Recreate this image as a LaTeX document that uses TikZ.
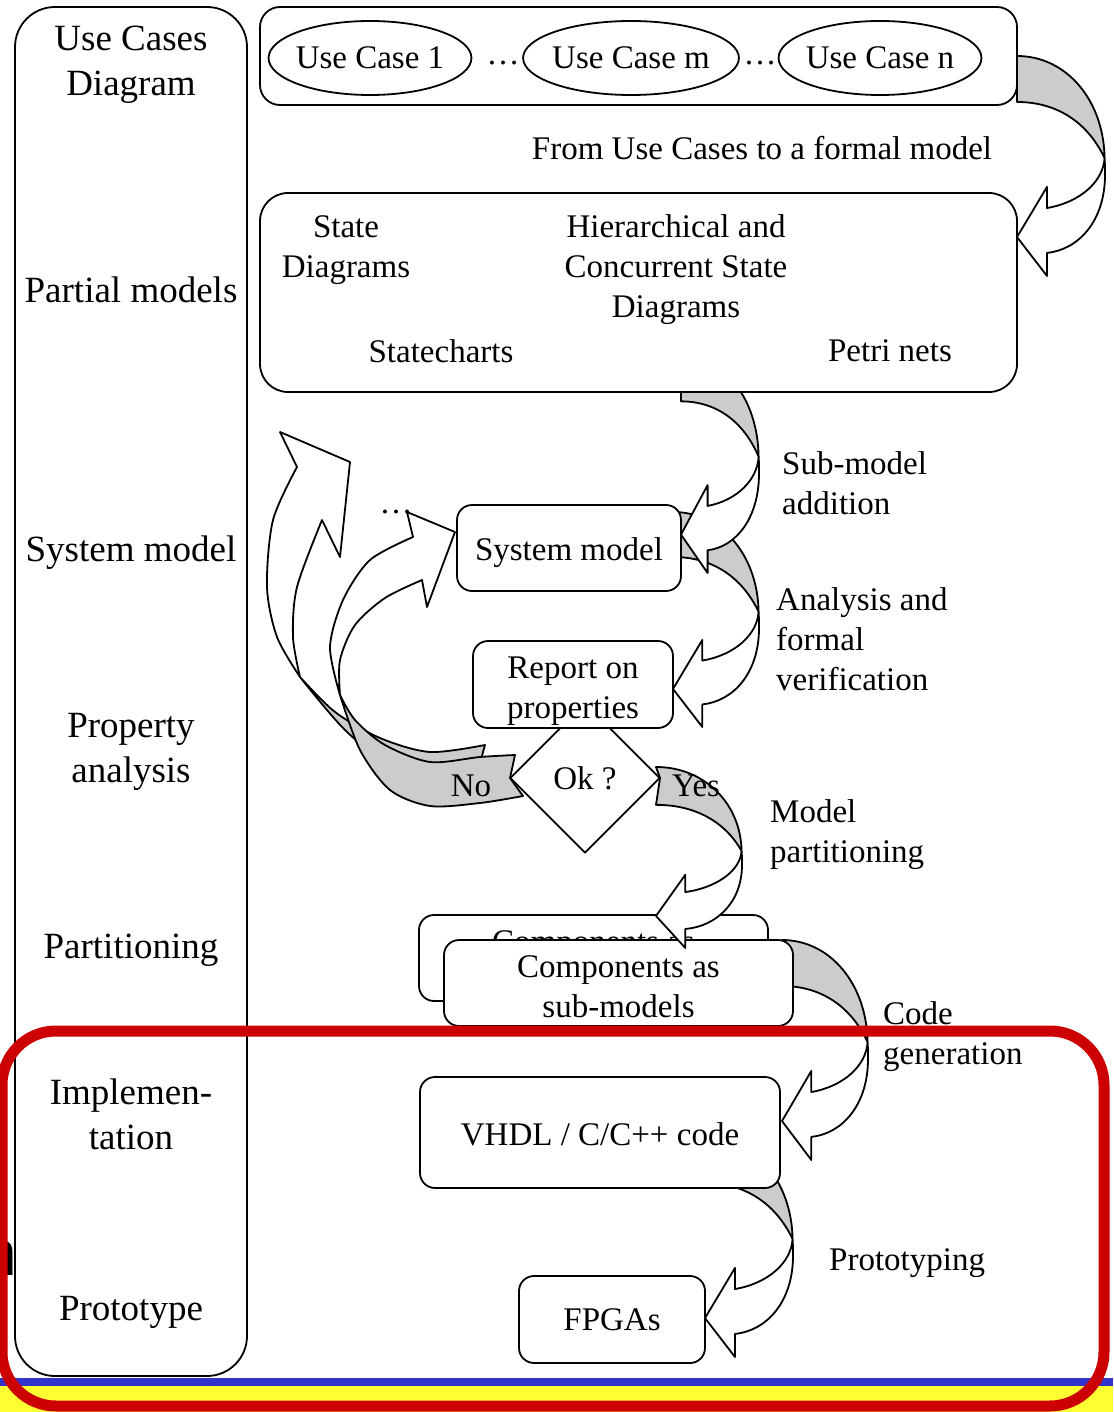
\documentclass[tikz,border=0pt]{standalone}
\usepackage{fontspec}
\setmainfont{Liberation Serif}
\newfontfamily\slidesans{Liberation Sans}
\usetikzlibrary{shapes.geometric}
\definecolor{bandgray}{HTML}{CCCCCC}
\definecolor{framered}{HTML}{CC0000}
\definecolor{stripblue}{HTML}{3333CC}
\definecolor{stripyellow}{HTML}{FFFF33}

% Folded (curved) block arrow: starts at (#1,#2) heading right, bends down and
% comes back pointing left; #3 = width, #4 = height, #5 = optional tail notch.
\newcommand\foldarrow[5]{%
  \begin{scope}[shift={(#1,#2)},xscale=#3,yscale=#4]
    \filldraw[backface] (0,0) .. controls (0.56,0) and (0.985,0.2) .. (0.995,0.464)
      .. controls (0.8,0.3) and (0.45,0.209) .. (0,0.209) #5 -- cycle;
    \filldraw[frontface] (0.995,0.464) .. controls (0.98,0.57) and (0.72,0.665) .. (0.341,0.691)
      -- (0.341,0.595) -- (0,0.823) -- (0.341,1) -- (0.341,0.895)
      .. controls (0.7,0.88) and (1,0.75) .. (1,0.54)
      .. controls (1,0.515) and (1,0.49) .. (0.995,0.464) -- cycle;
  \end{scope}}

\begin{document}
\begin{tikzpicture}[x=1pt,y=-1pt,line join=round,
  outline/.style={draw=black,line width=1.8pt},
  backface/.style={outline,fill=bandgray},
  frontface/.style={outline,fill=white},
  box/.style={outline,fill=white,rounded corners=#1,inner sep=0pt,align=center,
    font=\fontsize{33}{40}\selectfont},
  box/.default=15pt,
  usecase/.style={outline,fill=white,ellipse,minimum width=198,minimum height=74,
    inner xsep=-2.5pt,inner ysep=0pt,font=\fontsize{33}{40}\selectfont},
  body/.style={inner sep=0pt,align=center,font=\fontsize{33}{40}\selectfont},
  side/.style={inner sep=0pt,align=left,anchor=west,font=\fontsize{33}{40}\selectfont},
  lane/.style={inner sep=0pt,align=center,font=\fontsize{37}{45}\selectfont}]

\useasboundingbox (0,0) rectangle (1113,1412);
\clip (0,0) rectangle (1113,1412);
\fill[white] (0,0) rectangle (1113,1412);

% slide footer strip
\fill[stripyellow] (0,1386) rectangle (1113,1412);
\fill[stripblue] (0,1378) rectangle (1113,1386);

% letter cut by the slide edge
\node[anchor=base west,inner sep=0pt,font=\slidesans\fontsize{64}{64}\selectfont] (cut) at (-19,1275) {n};

% phase column
\node[box=40pt,minimum width=232,minimum height=1369] (lanes) at (131,691.5) {};
\node[lane] (l1) at (131,65) {Use Cases\\Diagram};
\node[lane] (l2) at (131,290) {Partial models};
\node[lane] (l3) at (131,553) {System model};
\node[lane] (l4) at (131,752) {Property\\analysis};
\node[lane] (l5) at (131,950) {Partitioning};
\node[lane] (l6) at (131,1114) {Implemen-\\tation};
\node[lane] (l7) at (131,1312) {Prototype};

% use cases
\node[box=20pt,minimum width=757,minimum height=98] (ucbox) at (638.5,56) {};
\node[usecase] (uc1) at (370,58) {Use Case 1};
\node[usecase] (ucm) at (631,58) {Use Case m};
\node[usecase] (ucn) at (880,58) {Use Case n};
\node[body] (dots1) at (503,63) {\dots};
\node[body] (dots2) at (760,63) {\dots};

\foldarrow{1017}{56}{88}{220}{}
\node[body] (formal) at (762,148) {From Use Cases to a formal model};

% partial models -> system model -> report
\foldarrow{673}{512}{86}{215}{}
\node[box,minimum width=224,minimum height=86,text height=33pt] (sys) at (569,548) {System model};
\foldarrow{681}{356}{78}{217}{}

\node[box=28pt,minimum width=757,minimum height=199] (partial) at (638.5,292.5) {};
\node[body] (sd) at (346,250) {State\\Diagrams};
\node[body] (hcsd) at (676,270) {Hierarchical and\\Concurrent State\\Diagrams};
\node[body] (sc) at (441,351) {Statecharts};
\node[body] (pn) at (890,351) {Petri nets};

% loop back on failed properties
\node[body] (dots3) at (396,512) {\dots};
\filldraw[backface] plot[smooth] coordinates {(300,677) (345,730) (400,775) (450,800) (497,796)}
  -- (478,770) -- plot[smooth] coordinates {(485,745) (430,752) (380,738) (335,712) (300,677)} -- cycle;
\filldraw[frontface] plot[smooth] coordinates {(300,677) (277,637) (267,587) (273,520) (297,467)}
  -- (280,432) -- (350,462) -- (340,557)
  -- plot[smooth] coordinates {(322,520) (297,587) (293,637) (300,677)} -- cycle;
\filldraw[backface] plot[smooth] coordinates {(340,695) (360,750) (390,790) (430,806) (480,803) (523,796)}
  -- (510,778) -- plot[smooth] coordinates {(515,755) (480,757) (430,762) (385,745) (355,720) (340,695)} -- cycle;
\filldraw[frontface] plot[smooth] coordinates {(340,695) (330,647) (343,600) (370,560) (413,537)}
  -- (407,512) -- (455,532) -- (427,607)
  -- plot[smooth] coordinates {(422,580) (385,598) (355,625) (340,660) (340,695)} -- cycle;
\node[body] (no) at (471,786) {No};

\node[outline,fill=white,diamond,minimum width=150,minimum height=150,body] (ok) at (585,778) {Ok ?};
\node[box,minimum width=200,minimum height=87,text height=76pt] (report) at (573,684.5) {Report on\\properties};

% partitioning, code generation, prototyping
\node[box,minimum width=186,minimum height=87] (fpga) at (612,1319.5) {FPGAs};
\foldarrow{705}{1137}{88}{220}{}
\node[box,minimum width=360,minimum height=111,text height=27pt] (code) at (600,1132.5) {VHDL / C/C++ code};
\foldarrow{782}{940}{86}{220}{}
\node[box,minimum width=349,minimum height=86,text height=70pt] (compback) at (593.5,958) {Components as\\sub-models};
\node[box,minimum width=349,minimum height=86,text height=70pt] (comp) at (618.5,983) {Components as\\sub-models};
\foldarrow{656}{767}{86}{181}{-- (0.047,0.061)}
\node[body] (yes) at (696,786) {Yes};

% step labels
\node[side] (t1) at (782,483) {Sub-model\\addition};
\node[side] (t2) at (776,639) {Analysis and\\formal\\verification};
\node[side] (t3) at (770,835) {Model\\partitioning};
\node[side] (t4) at (883,1037) {Code\\generation};
\node[side] (t5) at (829,1263) {Prototyping};

% highlight frame
\draw[framered,line width=11pt,rounded corners=54pt] (2,1031) rectangle (1104,1406);
\end{tikzpicture}
\end{document}
